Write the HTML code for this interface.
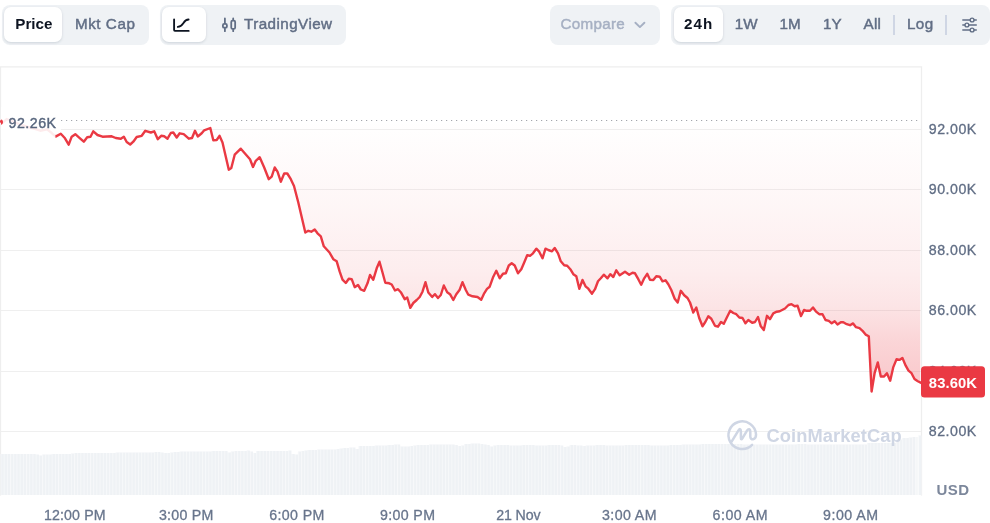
<!DOCTYPE html>
<html lang="en"><head><meta charset="utf-8"><title>Price chart</title>
<style>
html,body{margin:0;padding:0;background:#fff;}
body{width:990px;height:523px;position:relative;overflow:hidden;font-family:"Liberation Sans",sans-serif;}
.grp{position:absolute;top:5px;height:39.5px;background:#eff2f5;border-radius:8px;}
.pill{position:absolute;top:2.3px;height:34.7px;background:#fff;border-radius:7px;box-shadow:0 1px 2px rgba(128,138,157,.12),0 1px 3px rgba(128,138,157,.18);}
.t{position:absolute;top:0;height:39.5px;line-height:37px;font-size:15.2px;color:#616e85;white-space:nowrap;-webkit-text-stroke:.45px currentColor;}
.t.b{font-weight:bold;color:#0d1421;-webkit-text-stroke:0;}
.sep{position:absolute;top:10px;width:1.8px;height:20px;background:#cfd6e4;}
svg{position:absolute;left:0;top:0;}
.ax{font-family:"Liberation Sans",sans-serif;font-size:14.2px;fill:#616e85;letter-spacing:.5px;stroke:#616e85;stroke-width:.3px;}
.xx{font-family:"Liberation Sans",sans-serif;font-size:14.2px;fill:#68758c;letter-spacing:.12px;stroke:#68758c;stroke-width:.3px;}
</style></head><body>

<div class="grp" style="left:1.8px;width:147.2px;">
  <div class="pill" style="left:2.2px;width:58px;"></div>
  <div class="t b" style="left:13.5px;">Price</div>
  <div class="t" style="left:73.2px;letter-spacing:.55px;">Mkt Cap</div>
</div>

<div class="grp" style="left:159.5px;width:186px;">
  <div class="pill" style="left:2.2px;width:44.5px;"></div>
  <svg width="186" height="40" viewBox="0 0 186 40" fill="none">
    <path d="M14.1,14.4 V25.1 Q14.1,25.9 14.9,25.9 H28.7" stroke="#0d1421" stroke-width="1.85" stroke-linecap="round"/>
    <path d="M17.8,21.9 C24,21.6 22.6,14.8 28.6,14.5" stroke="#0d1421" stroke-width="1.85" stroke-linecap="round"/>
    <g stroke="#616e85" stroke-width="1.8" stroke-linecap="round">
      <path d="M64.9,13.4 V18 M64.9,23.5 V26.2 M73.2,13.4 V14.8 M73.2,24.6 V26.2"/>
      <rect x="62.9" y="18.9" width="4" height="3.8" rx="1.3"/>
      <rect x="71.25" y="15.7" width="3.9" height="8.1" rx="1.4"/>
    </g>
  </svg>
  <div class="t" style="left:84.5px;letter-spacing:.45px;">TradingView</div>
</div>

<div class="grp" style="left:550px;width:109.5px;">
  <div class="t" style="left:10.5px;color:#a6b0c3;letter-spacing:.3px;">Compare</div>
  <svg width="110" height="40" viewBox="0 0 110 40" fill="none"><path d="M85.4,17.7 L89.9,22.1 L94.4,17.7" stroke="#a6b0c3" stroke-width="1.9" stroke-linecap="round" stroke-linejoin="round"/></svg>
</div>

<div class="grp" style="left:670.5px;width:319.5px;">
  <div class="pill" style="left:3.5px;width:49px;"></div>
  <div class="t b" style="left:13.6px;letter-spacing:1px;">24h</div>
  <div class="t" style="left:64.2px;">1W</div>
  <div class="t" style="left:109px;">1M</div>
  <div class="t" style="left:152.5px;">1Y</div>
  <div class="t" style="left:193px;letter-spacing:.3px;">All</div>
  <div class="sep" style="left:222.3px;"></div>
  <div class="t" style="left:236.5px;letter-spacing:.4px;">Log</div>
  <div class="sep" style="left:274.6px;"></div>
  <svg width="330" height="40" viewBox="0 0 330 40" fill="none" style="left:0">
    <g stroke="#616e85" stroke-width="1.4" stroke-linecap="round" transform="translate(-.7 0)">
      <path d="M292.5,15 H306 M292.5,20 H306 M292.5,25 H306"/>
      <circle cx="301.8" cy="15" r="1.9" fill="#eff2f5"/>
      <circle cx="296.6" cy="20" r="1.9" fill="#eff2f5"/>
      <circle cx="301.8" cy="25" r="1.9" fill="#eff2f5"/>
    </g>
  </svg>
</div>

<svg width="990" height="523" viewBox="0 0 990 523">
  <defs>
    <linearGradient id="ag" x1="0" y1="120.5" x2="0" y2="392" gradientUnits="userSpaceOnUse">
      <stop offset="0.0000" stop-color="#ea3943" stop-opacity="0"/>
      <stop offset="0.3112" stop-color="#ea3943" stop-opacity="0.045"/>
      <stop offset="0.5506" stop-color="#ea3943" stop-opacity="0.09"/>
      <stop offset="0.6832" stop-color="#ea3943" stop-opacity="0.135"/>
      <stop offset="0.8085" stop-color="#ea3943" stop-opacity="0.21"/>
      <stop offset="0.9190" stop-color="#ea3943" stop-opacity="0.255"/>
      <stop offset="1.0000" stop-color="#ea3943" stop-opacity="0.28"/>
    </linearGradient>
    <pattern id="st" x="0.5" y="0" width="3.198" height="10" patternUnits="userSpaceOnUse"><rect x="0" y="0" width=".9" height="10" fill="#fff" fill-opacity=".5"/></pattern>
    <clipPath id="cp"><rect x="0" y="67" width="921.5" height="428"/></clipPath>
  </defs>
  <!-- frame -->
  <path d="M0.5,495.5 V66.8 H921.5 V495.5" fill="none" stroke="#eeeeee" stroke-width="1.3"/>
  <line x1="1" x2="921" y1="129.5" y2="129.5" stroke="#efefef" stroke-width="1"/>
<line x1="1" x2="921" y1="189.5" y2="189.5" stroke="#efefef" stroke-width="1"/>
<line x1="1" x2="921" y1="250.5" y2="250.5" stroke="#efefef" stroke-width="1"/>
<line x1="1" x2="921" y1="310.5" y2="310.5" stroke="#efefef" stroke-width="1"/>
<line x1="1" x2="921" y1="371.5" y2="371.5" stroke="#efefef" stroke-width="1"/>
<line x1="1" x2="921" y1="431.5" y2="431.5" stroke="#efefef" stroke-width="1"/>
  <!-- volume -->
  <path d="M0.5,495.0 L0.5,454.0 L3.7,454.0 L3.7,454.0 L6.9,454.0 L6.9,454.0 L10.1,454.0 L10.1,454.0 L13.3,454.0 L13.3,454.0 L16.5,454.0 L16.5,454.0 L19.7,454.0 L19.7,454.0 L22.9,454.0 L22.9,454.0 L26.1,454.0 L26.1,454.0 L29.3,454.0 L29.3,454.0 L32.5,454.0 L32.5,454.0 L35.7,454.0 L35.7,454.5 L38.9,454.5 L38.9,455.5 L42.1,455.5 L42.1,454.5 L45.3,454.5 L45.3,454.5 L48.5,454.5 L48.5,454.5 L51.7,454.5 L51.7,454.0 L54.9,454.0 L54.9,454.0 L58.1,454.0 L58.1,454.0 L61.3,454.0 L61.3,454.0 L64.5,454.0 L64.5,454.0 L67.7,454.0 L67.7,454.0 L70.9,454.0 L70.9,453.5 L74.1,453.5 L74.1,453.0 L77.2,453.0 L77.2,453.0 L80.4,453.0 L80.4,453.0 L83.6,453.0 L83.6,453.0 L86.8,453.0 L86.8,453.0 L90.0,453.0 L90.0,453.0 L93.2,453.0 L93.2,453.0 L96.4,453.0 L96.4,453.0 L99.6,453.0 L99.6,453.0 L102.8,453.0 L102.8,453.0 L106.0,453.0 L106.0,453.0 L109.2,453.0 L109.2,453.0 L112.4,453.0 L112.4,453.0 L115.6,453.0 L115.6,452.5 L118.8,452.5 L118.8,452.5 L122.0,452.5 L122.0,452.5 L125.2,452.5 L125.2,452.5 L128.4,452.5 L128.4,452.5 L131.6,452.5 L131.6,452.5 L134.8,452.5 L134.8,452.5 L138.0,452.5 L138.0,452.5 L141.2,452.5 L141.2,452.5 L144.4,452.5 L144.4,452.5 L147.6,452.5 L147.6,452.5 L150.8,452.5 L150.8,452.5 L154.0,452.5 L154.0,452.0 L157.2,452.0 L157.2,452.0 L160.4,452.0 L160.4,452.5 L163.6,452.5 L163.6,453.0 L166.8,453.0 L166.8,453.0 L170.0,453.0 L170.0,452.5 L173.2,452.5 L173.2,452.0 L176.4,452.0 L176.4,452.0 L179.6,452.0 L179.6,451.5 L182.8,451.5 L182.8,451.5 L186.0,451.5 L186.0,451.5 L189.2,451.5 L189.2,451.5 L192.4,451.5 L192.4,451.5 L195.6,451.5 L195.6,451.5 L198.8,451.5 L198.8,451.5 L202.0,451.5 L202.0,451.5 L205.2,451.5 L205.2,451.5 L208.4,451.5 L208.4,451.5 L211.6,451.5 L211.6,451.0 L214.8,451.0 L214.8,451.0 L218.0,451.0 L218.0,451.0 L221.2,451.0 L221.2,451.0 L224.4,451.0 L224.4,451.0 L227.6,451.0 L227.6,452.5 L230.7,452.5 L230.8,451.5 L233.9,451.5 L233.9,451.0 L237.1,451.0 L237.1,451.0 L240.3,451.0 L240.3,451.0 L243.5,451.0 L243.5,451.0 L246.7,451.0 L246.7,450.5 L249.9,450.5 L249.9,451.5 L253.1,451.5 L253.1,453.0 L256.3,453.0 L256.3,451.0 L259.5,451.0 L259.5,451.0 L262.7,451.0 L262.7,451.0 L265.9,451.0 L265.9,451.0 L269.1,451.0 L269.1,451.0 L272.3,451.0 L272.3,451.0 L275.5,451.0 L275.5,451.0 L278.7,451.0 L278.7,451.0 L281.9,451.0 L281.9,451.0 L285.1,451.0 L285.1,451.0 L288.3,451.0 L288.3,450.5 L291.5,450.5 L291.5,454.0 L294.7,454.0 L294.7,454.5 L297.9,454.5 L297.9,451.5 L301.1,451.5 L301.1,451.0 L304.3,451.0 L304.3,450.5 L307.5,450.5 L307.5,450.0 L310.7,450.0 L310.7,450.0 L313.9,450.0 L313.9,450.0 L317.1,450.0 L317.1,449.5 L320.3,449.5 L320.3,449.5 L323.5,449.5 L323.5,449.5 L326.7,449.5 L326.7,449.5 L329.9,449.5 L329.9,449.5 L333.1,449.5 L333.1,449.5 L336.3,449.5 L336.3,449.0 L339.5,449.0 L339.5,448.5 L342.7,448.5 L342.7,448.0 L345.9,448.0 L345.9,448.0 L349.1,448.0 L349.1,447.5 L352.3,447.5 L352.3,447.5 L355.5,447.5 L355.5,449.0 L358.7,449.0 L358.7,446.0 L361.9,446.0 L361.9,446.0 L365.1,446.0 L365.1,446.0 L368.3,446.0 L368.3,446.0 L371.5,446.0 L371.5,446.0 L374.7,446.0 L374.7,445.5 L377.9,445.5 L377.9,445.5 L381.1,445.5 L381.1,445.5 L384.2,445.5 L384.2,445.5 L387.4,445.5 L387.4,445.0 L390.6,445.0 L390.6,445.0 L393.8,445.0 L393.8,444.5 L397.0,444.5 L397.0,444.5 L400.2,444.5 L400.2,446.5 L403.4,446.5 L403.4,446.5 L406.6,446.5 L406.6,446.5 L409.8,446.5 L409.8,446.0 L413.0,446.0 L413.0,445.5 L416.2,445.5 L416.2,445.0 L419.4,445.0 L419.4,445.0 L422.6,445.0 L422.6,445.0 L425.8,445.0 L425.8,445.0 L429.0,445.0 L429.0,444.5 L432.2,444.5 L432.2,444.5 L435.4,444.5 L435.4,444.5 L438.6,444.5 L438.6,444.5 L441.8,444.5 L441.8,444.5 L445.0,444.5 L445.0,444.5 L448.2,444.5 L448.2,444.5 L451.4,444.5 L451.4,444.5 L454.6,444.5 L454.6,445.0 L457.8,445.0 L457.8,446.0 L461.0,446.0 L461.0,445.5 L464.2,445.5 L464.2,444.0 L467.4,444.0 L467.4,444.0 L470.6,444.0 L470.6,443.5 L473.8,443.5 L473.8,443.5 L477.0,443.5 L477.0,443.5 L480.2,443.5 L480.2,444.0 L483.4,444.0 L483.4,444.5 L486.6,444.5 L486.6,445.0 L489.8,445.0 L489.8,446.5 L493.0,446.5 L493.0,445.5 L496.2,445.5 L496.2,445.0 L499.4,445.0 L499.4,445.0 L502.6,445.0 L502.6,445.0 L505.8,445.0 L505.8,445.0 L509.0,445.0 L509.0,445.5 L512.2,445.5 L512.2,445.5 L515.4,445.5 L515.4,445.5 L518.6,445.5 L518.6,445.5 L521.8,445.5 L521.8,445.0 L525.0,445.0 L525.0,445.0 L528.2,445.0 L528.2,445.0 L531.4,445.0 L531.4,445.0 L534.6,445.0 L534.6,445.5 L537.7,445.5 L537.8,445.5 L540.9,445.5 L540.9,445.5 L544.1,445.5 L544.1,445.5 L547.3,445.5 L547.3,445.0 L550.5,445.0 L550.5,445.0 L553.7,445.0 L553.7,445.0 L556.9,445.0 L556.9,445.0 L560.1,445.0 L560.1,445.5 L563.3,445.5 L563.3,447.0 L566.5,447.0 L566.5,446.5 L569.7,446.5 L569.7,445.0 L572.9,445.0 L572.9,445.0 L576.1,445.0 L576.1,445.5 L579.3,445.5 L579.3,445.5 L582.5,445.5 L582.5,446.0 L585.7,446.0 L585.7,445.5 L588.9,445.5 L588.9,445.5 L592.1,445.5 L592.1,445.5 L595.3,445.5 L595.3,445.0 L598.5,445.0 L598.5,445.0 L601.7,445.0 L601.7,445.0 L604.9,445.0 L604.9,445.5 L608.1,445.5 L608.1,445.5 L611.3,445.5 L611.3,445.5 L614.5,445.5 L614.5,445.5 L617.7,445.5 L617.7,445.5 L620.9,445.5 L620.9,445.5 L624.1,445.5 L624.1,445.0 L627.3,445.0 L627.3,445.0 L630.5,445.0 L630.5,445.0 L633.7,445.0 L633.7,445.0 L636.9,445.0 L636.9,445.0 L640.1,445.0 L640.1,445.0 L643.3,445.0 L643.3,445.0 L646.5,445.0 L646.5,445.0 L649.7,445.0 L649.7,445.5 L652.9,445.5 L652.9,445.5 L656.1,445.5 L656.1,445.5 L659.3,445.5 L659.3,445.5 L662.5,445.5 L662.5,445.5 L665.7,445.5 L665.7,445.5 L668.9,445.5 L668.9,445.0 L672.1,445.0 L672.1,445.0 L675.3,445.0 L675.3,445.0 L678.5,445.0 L678.5,445.0 L681.7,445.0 L681.7,444.5 L684.9,444.5 L684.9,444.5 L688.1,444.5 L688.1,444.5 L691.2,444.5 L691.2,444.5 L694.4,444.5 L694.4,444.5 L697.6,444.5 L697.6,444.5 L700.8,444.5 L700.8,444.0 L704.0,444.0 L704.0,444.0 L707.2,444.0 L707.2,444.0 L710.4,444.0 L710.4,444.0 L713.6,444.0 L713.6,444.0 L716.8,444.0 L716.8,444.0 L720.0,444.0 L720.0,444.0 L723.2,444.0 L723.2,444.0 L726.4,444.0 L726.4,444.0 L729.6,444.0 L729.6,444.0 L732.8,444.0 L732.8,444.0 L736.0,444.0 L736.0,444.0 L739.2,444.0 L739.2,444.0 L742.4,444.0 L742.4,444.5 L745.6,444.5 L745.6,444.5 L748.8,444.5 L748.8,444.5 L752.0,444.5 L752.0,444.5 L755.2,444.5 L755.2,444.5 L758.4,444.5 L758.4,444.5 L761.6,444.5 L761.6,444.5 L764.8,444.5 L764.8,444.5 L768.0,444.5 L768.0,444.5 L771.2,444.5 L771.2,444.5 L774.4,444.5 L774.4,444.5 L777.6,444.5 L777.6,444.5 L780.8,444.5 L780.8,444.5 L784.0,444.5 L784.0,444.5 L787.2,444.5 L787.2,444.5 L790.4,444.5 L790.4,444.5 L793.6,444.5 L793.6,444.5 L796.8,444.5 L796.8,444.0 L800.0,444.0 L800.0,444.0 L803.2,444.0 L803.2,444.0 L806.4,444.0 L806.4,444.5 L809.6,444.5 L809.6,444.5 L812.8,444.5 L812.8,444.5 L816.0,444.5 L816.0,444.5 L819.2,444.5 L819.2,444.5 L822.4,444.5 L822.4,444.5 L825.6,444.5 L825.6,444.5 L828.8,444.5 L828.8,444.5 L832.0,444.5 L832.0,444.5 L835.2,444.5 L835.2,444.5 L838.4,444.5 L838.4,444.5 L841.6,444.5 L841.6,444.5 L844.7,444.5 L844.8,444.5 L847.9,444.5 L847.9,444.5 L851.1,444.5 L851.1,444.5 L854.3,444.5 L854.3,444.5 L857.5,444.5 L857.5,444.5 L860.7,444.5 L860.7,444.5 L863.9,444.5 L863.9,444.5 L867.1,444.5 L867.1,443.0 L870.3,443.0 L870.3,443.0 L873.5,443.0 L873.5,443.0 L876.7,443.0 L876.7,443.0 L879.9,443.0 L879.9,443.0 L883.1,443.0 L883.1,443.0 L886.3,443.0 L886.3,443.0 L889.5,443.0 L889.5,443.0 L892.7,443.0 L892.7,443.0 L895.9,443.0 L895.9,442.0 L899.1,442.0 L899.1,439.5 L902.3,439.5 L902.3,438.0 L905.5,438.0 L905.5,438.0 L908.7,438.0 L908.7,437.5 L911.9,437.5 L911.9,437.0 L915.1,437.0 L915.1,437.0 L918.3,437.0 L918.3,435.5 L921.5,435.5 L921.5,495.0 Z" fill="#eff2f5"/>
  <path d="M0.5,495.0 L0.5,454.0 L3.7,454.0 L3.7,454.0 L6.9,454.0 L6.9,454.0 L10.1,454.0 L10.1,454.0 L13.3,454.0 L13.3,454.0 L16.5,454.0 L16.5,454.0 L19.7,454.0 L19.7,454.0 L22.9,454.0 L22.9,454.0 L26.1,454.0 L26.1,454.0 L29.3,454.0 L29.3,454.0 L32.5,454.0 L32.5,454.0 L35.7,454.0 L35.7,454.5 L38.9,454.5 L38.9,455.5 L42.1,455.5 L42.1,454.5 L45.3,454.5 L45.3,454.5 L48.5,454.5 L48.5,454.5 L51.7,454.5 L51.7,454.0 L54.9,454.0 L54.9,454.0 L58.1,454.0 L58.1,454.0 L61.3,454.0 L61.3,454.0 L64.5,454.0 L64.5,454.0 L67.7,454.0 L67.7,454.0 L70.9,454.0 L70.9,453.5 L74.1,453.5 L74.1,453.0 L77.2,453.0 L77.2,453.0 L80.4,453.0 L80.4,453.0 L83.6,453.0 L83.6,453.0 L86.8,453.0 L86.8,453.0 L90.0,453.0 L90.0,453.0 L93.2,453.0 L93.2,453.0 L96.4,453.0 L96.4,453.0 L99.6,453.0 L99.6,453.0 L102.8,453.0 L102.8,453.0 L106.0,453.0 L106.0,453.0 L109.2,453.0 L109.2,453.0 L112.4,453.0 L112.4,453.0 L115.6,453.0 L115.6,452.5 L118.8,452.5 L118.8,452.5 L122.0,452.5 L122.0,452.5 L125.2,452.5 L125.2,452.5 L128.4,452.5 L128.4,452.5 L131.6,452.5 L131.6,452.5 L134.8,452.5 L134.8,452.5 L138.0,452.5 L138.0,452.5 L141.2,452.5 L141.2,452.5 L144.4,452.5 L144.4,452.5 L147.6,452.5 L147.6,452.5 L150.8,452.5 L150.8,452.5 L154.0,452.5 L154.0,452.0 L157.2,452.0 L157.2,452.0 L160.4,452.0 L160.4,452.5 L163.6,452.5 L163.6,453.0 L166.8,453.0 L166.8,453.0 L170.0,453.0 L170.0,452.5 L173.2,452.5 L173.2,452.0 L176.4,452.0 L176.4,452.0 L179.6,452.0 L179.6,451.5 L182.8,451.5 L182.8,451.5 L186.0,451.5 L186.0,451.5 L189.2,451.5 L189.2,451.5 L192.4,451.5 L192.4,451.5 L195.6,451.5 L195.6,451.5 L198.8,451.5 L198.8,451.5 L202.0,451.5 L202.0,451.5 L205.2,451.5 L205.2,451.5 L208.4,451.5 L208.4,451.5 L211.6,451.5 L211.6,451.0 L214.8,451.0 L214.8,451.0 L218.0,451.0 L218.0,451.0 L221.2,451.0 L221.2,451.0 L224.4,451.0 L224.4,451.0 L227.6,451.0 L227.6,452.5 L230.7,452.5 L230.8,451.5 L233.9,451.5 L233.9,451.0 L237.1,451.0 L237.1,451.0 L240.3,451.0 L240.3,451.0 L243.5,451.0 L243.5,451.0 L246.7,451.0 L246.7,450.5 L249.9,450.5 L249.9,451.5 L253.1,451.5 L253.1,453.0 L256.3,453.0 L256.3,451.0 L259.5,451.0 L259.5,451.0 L262.7,451.0 L262.7,451.0 L265.9,451.0 L265.9,451.0 L269.1,451.0 L269.1,451.0 L272.3,451.0 L272.3,451.0 L275.5,451.0 L275.5,451.0 L278.7,451.0 L278.7,451.0 L281.9,451.0 L281.9,451.0 L285.1,451.0 L285.1,451.0 L288.3,451.0 L288.3,450.5 L291.5,450.5 L291.5,454.0 L294.7,454.0 L294.7,454.5 L297.9,454.5 L297.9,451.5 L301.1,451.5 L301.1,451.0 L304.3,451.0 L304.3,450.5 L307.5,450.5 L307.5,450.0 L310.7,450.0 L310.7,450.0 L313.9,450.0 L313.9,450.0 L317.1,450.0 L317.1,449.5 L320.3,449.5 L320.3,449.5 L323.5,449.5 L323.5,449.5 L326.7,449.5 L326.7,449.5 L329.9,449.5 L329.9,449.5 L333.1,449.5 L333.1,449.5 L336.3,449.5 L336.3,449.0 L339.5,449.0 L339.5,448.5 L342.7,448.5 L342.7,448.0 L345.9,448.0 L345.9,448.0 L349.1,448.0 L349.1,447.5 L352.3,447.5 L352.3,447.5 L355.5,447.5 L355.5,449.0 L358.7,449.0 L358.7,446.0 L361.9,446.0 L361.9,446.0 L365.1,446.0 L365.1,446.0 L368.3,446.0 L368.3,446.0 L371.5,446.0 L371.5,446.0 L374.7,446.0 L374.7,445.5 L377.9,445.5 L377.9,445.5 L381.1,445.5 L381.1,445.5 L384.2,445.5 L384.2,445.5 L387.4,445.5 L387.4,445.0 L390.6,445.0 L390.6,445.0 L393.8,445.0 L393.8,444.5 L397.0,444.5 L397.0,444.5 L400.2,444.5 L400.2,446.5 L403.4,446.5 L403.4,446.5 L406.6,446.5 L406.6,446.5 L409.8,446.5 L409.8,446.0 L413.0,446.0 L413.0,445.5 L416.2,445.5 L416.2,445.0 L419.4,445.0 L419.4,445.0 L422.6,445.0 L422.6,445.0 L425.8,445.0 L425.8,445.0 L429.0,445.0 L429.0,444.5 L432.2,444.5 L432.2,444.5 L435.4,444.5 L435.4,444.5 L438.6,444.5 L438.6,444.5 L441.8,444.5 L441.8,444.5 L445.0,444.5 L445.0,444.5 L448.2,444.5 L448.2,444.5 L451.4,444.5 L451.4,444.5 L454.6,444.5 L454.6,445.0 L457.8,445.0 L457.8,446.0 L461.0,446.0 L461.0,445.5 L464.2,445.5 L464.2,444.0 L467.4,444.0 L467.4,444.0 L470.6,444.0 L470.6,443.5 L473.8,443.5 L473.8,443.5 L477.0,443.5 L477.0,443.5 L480.2,443.5 L480.2,444.0 L483.4,444.0 L483.4,444.5 L486.6,444.5 L486.6,445.0 L489.8,445.0 L489.8,446.5 L493.0,446.5 L493.0,445.5 L496.2,445.5 L496.2,445.0 L499.4,445.0 L499.4,445.0 L502.6,445.0 L502.6,445.0 L505.8,445.0 L505.8,445.0 L509.0,445.0 L509.0,445.5 L512.2,445.5 L512.2,445.5 L515.4,445.5 L515.4,445.5 L518.6,445.5 L518.6,445.5 L521.8,445.5 L521.8,445.0 L525.0,445.0 L525.0,445.0 L528.2,445.0 L528.2,445.0 L531.4,445.0 L531.4,445.0 L534.6,445.0 L534.6,445.5 L537.7,445.5 L537.8,445.5 L540.9,445.5 L540.9,445.5 L544.1,445.5 L544.1,445.5 L547.3,445.5 L547.3,445.0 L550.5,445.0 L550.5,445.0 L553.7,445.0 L553.7,445.0 L556.9,445.0 L556.9,445.0 L560.1,445.0 L560.1,445.5 L563.3,445.5 L563.3,447.0 L566.5,447.0 L566.5,446.5 L569.7,446.5 L569.7,445.0 L572.9,445.0 L572.9,445.0 L576.1,445.0 L576.1,445.5 L579.3,445.5 L579.3,445.5 L582.5,445.5 L582.5,446.0 L585.7,446.0 L585.7,445.5 L588.9,445.5 L588.9,445.5 L592.1,445.5 L592.1,445.5 L595.3,445.5 L595.3,445.0 L598.5,445.0 L598.5,445.0 L601.7,445.0 L601.7,445.0 L604.9,445.0 L604.9,445.5 L608.1,445.5 L608.1,445.5 L611.3,445.5 L611.3,445.5 L614.5,445.5 L614.5,445.5 L617.7,445.5 L617.7,445.5 L620.9,445.5 L620.9,445.5 L624.1,445.5 L624.1,445.0 L627.3,445.0 L627.3,445.0 L630.5,445.0 L630.5,445.0 L633.7,445.0 L633.7,445.0 L636.9,445.0 L636.9,445.0 L640.1,445.0 L640.1,445.0 L643.3,445.0 L643.3,445.0 L646.5,445.0 L646.5,445.0 L649.7,445.0 L649.7,445.5 L652.9,445.5 L652.9,445.5 L656.1,445.5 L656.1,445.5 L659.3,445.5 L659.3,445.5 L662.5,445.5 L662.5,445.5 L665.7,445.5 L665.7,445.5 L668.9,445.5 L668.9,445.0 L672.1,445.0 L672.1,445.0 L675.3,445.0 L675.3,445.0 L678.5,445.0 L678.5,445.0 L681.7,445.0 L681.7,444.5 L684.9,444.5 L684.9,444.5 L688.1,444.5 L688.1,444.5 L691.2,444.5 L691.2,444.5 L694.4,444.5 L694.4,444.5 L697.6,444.5 L697.6,444.5 L700.8,444.5 L700.8,444.0 L704.0,444.0 L704.0,444.0 L707.2,444.0 L707.2,444.0 L710.4,444.0 L710.4,444.0 L713.6,444.0 L713.6,444.0 L716.8,444.0 L716.8,444.0 L720.0,444.0 L720.0,444.0 L723.2,444.0 L723.2,444.0 L726.4,444.0 L726.4,444.0 L729.6,444.0 L729.6,444.0 L732.8,444.0 L732.8,444.0 L736.0,444.0 L736.0,444.0 L739.2,444.0 L739.2,444.0 L742.4,444.0 L742.4,444.5 L745.6,444.5 L745.6,444.5 L748.8,444.5 L748.8,444.5 L752.0,444.5 L752.0,444.5 L755.2,444.5 L755.2,444.5 L758.4,444.5 L758.4,444.5 L761.6,444.5 L761.6,444.5 L764.8,444.5 L764.8,444.5 L768.0,444.5 L768.0,444.5 L771.2,444.5 L771.2,444.5 L774.4,444.5 L774.4,444.5 L777.6,444.5 L777.6,444.5 L780.8,444.5 L780.8,444.5 L784.0,444.5 L784.0,444.5 L787.2,444.5 L787.2,444.5 L790.4,444.5 L790.4,444.5 L793.6,444.5 L793.6,444.5 L796.8,444.5 L796.8,444.0 L800.0,444.0 L800.0,444.0 L803.2,444.0 L803.2,444.0 L806.4,444.0 L806.4,444.5 L809.6,444.5 L809.6,444.5 L812.8,444.5 L812.8,444.5 L816.0,444.5 L816.0,444.5 L819.2,444.5 L819.2,444.5 L822.4,444.5 L822.4,444.5 L825.6,444.5 L825.6,444.5 L828.8,444.5 L828.8,444.5 L832.0,444.5 L832.0,444.5 L835.2,444.5 L835.2,444.5 L838.4,444.5 L838.4,444.5 L841.6,444.5 L841.6,444.5 L844.7,444.5 L844.8,444.5 L847.9,444.5 L847.9,444.5 L851.1,444.5 L851.1,444.5 L854.3,444.5 L854.3,444.5 L857.5,444.5 L857.5,444.5 L860.7,444.5 L860.7,444.5 L863.9,444.5 L863.9,444.5 L867.1,444.5 L867.1,443.0 L870.3,443.0 L870.3,443.0 L873.5,443.0 L873.5,443.0 L876.7,443.0 L876.7,443.0 L879.9,443.0 L879.9,443.0 L883.1,443.0 L883.1,443.0 L886.3,443.0 L886.3,443.0 L889.5,443.0 L889.5,443.0 L892.7,443.0 L892.7,443.0 L895.9,443.0 L895.9,442.0 L899.1,442.0 L899.1,439.5 L902.3,439.5 L902.3,438.0 L905.5,438.0 L905.5,438.0 L908.7,438.0 L908.7,437.5 L911.9,437.5 L911.9,437.0 L915.1,437.0 L915.1,437.0 L918.3,437.0 L918.3,435.5 L921.5,435.5 L921.5,495.0 Z" fill="url(#st)"/>
  <rect x="916.3" y="436" width="2.6" height="59" fill="#fff" fill-opacity=".45"/>
  <!-- area + line -->
  <g clip-path="url(#cp)">
    <path d="M0.5,121.5 L3.0,122.5 L6.7,119.0 L12.0,121.0 L20.0,124.5 L28.0,127.0 L34.0,128.5 L40.3,130.7 L47.0,129.4 L51.5,132.8 L55.6,136.6 L60.8,133.7 L65.0,138.3 L68.7,144.7 L71.7,136.7 L75.3,134.2 L80.0,138.3 L83.8,141.7 L87.2,137.2 L90.5,136.7 L93.3,131.3 L97.5,135.0 L102.5,136.7 L111.7,136.3 L115.8,138.0 L120.8,138.7 L123.8,136.7 L126.7,142.0 L130.2,144.5 L133.3,141.7 L136.7,137.0 L141.7,135.8 L145.3,130.8 L150.8,132.5 L154.2,131.3 L157.8,139.2 L161.2,135.8 L164.2,136.3 L167.5,138.7 L170.8,133.0 L173.3,132.5 L176.7,137.5 L179.7,133.3 L183.7,134.2 L188.8,138.7 L192.0,138.0 L195.0,130.8 L197.8,136.5 L201.7,133.3 L204.2,130.3 L210.3,128.0 L213.3,140.3 L216.7,140.0 L219.5,135.8 L222.5,142.5 L228.8,169.7 L231.3,168.0 L234.7,154.7 L240.8,148.7 L250.0,159.2 L253.0,167.0 L255.8,160.8 L259.7,157.2 L264.2,167.5 L268.8,179.2 L271.7,176.7 L274.7,167.5 L277.5,171.7 L280.8,181.7 L284.2,173.5 L287.3,173.5 L290.8,179.2 L294.0,186.0 L298.3,202.5 L305.3,232.5 L308.3,230.8 L311.3,231.7 L314.7,229.5 L317.5,233.3 L320.8,236.3 L323.8,246.3 L329.5,252.5 L333.3,259.2 L336.7,261.3 L339.7,271.7 L342.5,279.7 L345.8,283.0 L348.8,278.8 L351.7,279.2 L354.7,287.2 L358.0,285.0 L360.8,289.5 L364.2,290.8 L367.5,283.3 L370.0,275.0 L373.3,279.7 L376.7,268.3 L379.5,261.7 L382.5,272.5 L385.3,282.8 L389.2,283.3 L391.7,284.5 L395.0,290.5 L398.0,289.2 L400.8,292.2 L404.7,299.2 L407.2,297.5 L410.3,307.8 L413.3,303.0 L416.7,300.0 L419.7,297.0 L422.5,291.7 L425.5,282.2 L428.3,292.5 L432.2,297.0 L435.0,294.2 L438.0,298.0 L440.8,295.0 L443.8,285.5 L447.2,292.2 L450.0,294.2 L453.3,300.0 L456.3,294.2 L459.7,289.7 L462.5,282.2 L465.8,290.0 L468.3,294.7 L472.5,296.3 L477.5,297.0 L481.2,299.7 L484.2,293.3 L487.0,288.9 L489.7,286.7 L493.3,276.7 L496.3,270.8 L499.7,278.3 L503.0,273.7 L505.8,273.3 L508.8,265.5 L511.7,263.3 L514.7,265.5 L518.0,273.3 L521.3,269.2 L524.2,262.5 L527.2,255.3 L530.0,255.8 L533.0,253.3 L536.3,248.7 L539.2,251.7 L542.5,258.3 L545.5,248.7 L548.3,250.0 L552.0,251.3 L554.7,248.0 L558.0,253.3 L560.8,261.3 L564.2,265.3 L567.2,265.8 L570.3,269.2 L573.3,274.2 L576.3,276.3 L579.3,288.8 L582.5,280.0 L585.5,286.3 L588.3,288.7 L592.0,293.7 L595.0,289.2 L598.0,281.3 L600.8,278.3 L603.8,274.7 L607.5,278.3 L610.3,274.2 L613.3,277.0 L616.3,270.3 L619.7,275.3 L625.0,271.7 L629.2,274.7 L632.5,272.8 L635.0,273.3 L638.3,279.2 L641.2,284.7 L644.2,278.3 L647.2,273.8 L650.0,279.7 L653.3,280.0 L656.3,276.2 L659.7,276.7 L662.5,281.3 L665.5,280.3 L668.3,284.2 L671.3,290.0 L674.7,298.7 L677.7,302.5 L680.8,290.8 L684.2,295.3 L687.5,298.0 L690.0,302.5 L693.3,312.5 L696.3,307.5 L699.2,318.0 L702.5,326.3 L705.3,322.0 L708.3,316.3 L711.3,318.7 L715.0,325.8 L718.0,326.7 L721.0,322.0 L723.8,323.8 L727.2,316.7 L730.2,310.8 L733.3,313.0 L736.3,314.2 L739.3,317.5 L742.5,318.0 L745.5,323.3 L748.3,320.0 L752.2,322.8 L755.0,322.0 L758.0,317.0 L760.8,326.3 L763.8,330.0 L767.0,315.8 L770.0,319.2 L773.3,313.3 L776.7,311.7 L779.7,311.3 L785.0,308.5 L788.5,305.0 L791.5,304.2 L794.7,306.3 L797.6,305.8 L801.0,316.0 L804.0,310.0 L806.7,310.8 L810.0,310.8 L813.0,307.5 L815.8,311.3 L819.2,314.2 L822.5,314.2 L825.5,320.0 L828.8,320.8 L831.7,323.3 L834.7,321.3 L837.5,324.5 L840.8,322.2 L843.3,322.2 L846.7,324.2 L850.0,325.2 L853.1,323.4 L856.0,327.2 L859.5,328.2 L862.5,330.8 L865.6,334.6 L868.8,336.3 L871.6,391.5 L874.6,373.2 L877.8,362.4 L880.8,376.5 L884.1,376.5 L886.9,373.2 L890.2,380.7 L893.2,367.4 L896.6,359.1 L899.4,359.9 L902.4,357.9 L905.7,365.7 L908.5,370.7 L911.5,373.2 L914.5,379.0 L917.8,381.2 L920.3,382.5 L920.3,120.5 L0.5,120.5 Z" fill="url(#ag)"/>
    <path d="M0.5,121.5 L3.0,122.5 L6.7,119.0 L12.0,121.0 L20.0,124.5 L28.0,127.0 L34.0,128.5 L40.3,130.7 L47.0,129.4 L51.5,132.8 L55.6,136.6 L60.8,133.7 L65.0,138.3 L68.7,144.7 L71.7,136.7 L75.3,134.2 L80.0,138.3 L83.8,141.7 L87.2,137.2 L90.5,136.7 L93.3,131.3 L97.5,135.0 L102.5,136.7 L111.7,136.3 L115.8,138.0 L120.8,138.7 L123.8,136.7 L126.7,142.0 L130.2,144.5 L133.3,141.7 L136.7,137.0 L141.7,135.8 L145.3,130.8 L150.8,132.5 L154.2,131.3 L157.8,139.2 L161.2,135.8 L164.2,136.3 L167.5,138.7 L170.8,133.0 L173.3,132.5 L176.7,137.5 L179.7,133.3 L183.7,134.2 L188.8,138.7 L192.0,138.0 L195.0,130.8 L197.8,136.5 L201.7,133.3 L204.2,130.3 L210.3,128.0 L213.3,140.3 L216.7,140.0 L219.5,135.8 L222.5,142.5 L228.8,169.7 L231.3,168.0 L234.7,154.7 L240.8,148.7 L250.0,159.2 L253.0,167.0 L255.8,160.8 L259.7,157.2 L264.2,167.5 L268.8,179.2 L271.7,176.7 L274.7,167.5 L277.5,171.7 L280.8,181.7 L284.2,173.5 L287.3,173.5 L290.8,179.2 L294.0,186.0 L298.3,202.5 L305.3,232.5 L308.3,230.8 L311.3,231.7 L314.7,229.5 L317.5,233.3 L320.8,236.3 L323.8,246.3 L329.5,252.5 L333.3,259.2 L336.7,261.3 L339.7,271.7 L342.5,279.7 L345.8,283.0 L348.8,278.8 L351.7,279.2 L354.7,287.2 L358.0,285.0 L360.8,289.5 L364.2,290.8 L367.5,283.3 L370.0,275.0 L373.3,279.7 L376.7,268.3 L379.5,261.7 L382.5,272.5 L385.3,282.8 L389.2,283.3 L391.7,284.5 L395.0,290.5 L398.0,289.2 L400.8,292.2 L404.7,299.2 L407.2,297.5 L410.3,307.8 L413.3,303.0 L416.7,300.0 L419.7,297.0 L422.5,291.7 L425.5,282.2 L428.3,292.5 L432.2,297.0 L435.0,294.2 L438.0,298.0 L440.8,295.0 L443.8,285.5 L447.2,292.2 L450.0,294.2 L453.3,300.0 L456.3,294.2 L459.7,289.7 L462.5,282.2 L465.8,290.0 L468.3,294.7 L472.5,296.3 L477.5,297.0 L481.2,299.7 L484.2,293.3 L487.0,288.9 L489.7,286.7 L493.3,276.7 L496.3,270.8 L499.7,278.3 L503.0,273.7 L505.8,273.3 L508.8,265.5 L511.7,263.3 L514.7,265.5 L518.0,273.3 L521.3,269.2 L524.2,262.5 L527.2,255.3 L530.0,255.8 L533.0,253.3 L536.3,248.7 L539.2,251.7 L542.5,258.3 L545.5,248.7 L548.3,250.0 L552.0,251.3 L554.7,248.0 L558.0,253.3 L560.8,261.3 L564.2,265.3 L567.2,265.8 L570.3,269.2 L573.3,274.2 L576.3,276.3 L579.3,288.8 L582.5,280.0 L585.5,286.3 L588.3,288.7 L592.0,293.7 L595.0,289.2 L598.0,281.3 L600.8,278.3 L603.8,274.7 L607.5,278.3 L610.3,274.2 L613.3,277.0 L616.3,270.3 L619.7,275.3 L625.0,271.7 L629.2,274.7 L632.5,272.8 L635.0,273.3 L638.3,279.2 L641.2,284.7 L644.2,278.3 L647.2,273.8 L650.0,279.7 L653.3,280.0 L656.3,276.2 L659.7,276.7 L662.5,281.3 L665.5,280.3 L668.3,284.2 L671.3,290.0 L674.7,298.7 L677.7,302.5 L680.8,290.8 L684.2,295.3 L687.5,298.0 L690.0,302.5 L693.3,312.5 L696.3,307.5 L699.2,318.0 L702.5,326.3 L705.3,322.0 L708.3,316.3 L711.3,318.7 L715.0,325.8 L718.0,326.7 L721.0,322.0 L723.8,323.8 L727.2,316.7 L730.2,310.8 L733.3,313.0 L736.3,314.2 L739.3,317.5 L742.5,318.0 L745.5,323.3 L748.3,320.0 L752.2,322.8 L755.0,322.0 L758.0,317.0 L760.8,326.3 L763.8,330.0 L767.0,315.8 L770.0,319.2 L773.3,313.3 L776.7,311.7 L779.7,311.3 L785.0,308.5 L788.5,305.0 L791.5,304.2 L794.7,306.3 L797.6,305.8 L801.0,316.0 L804.0,310.0 L806.7,310.8 L810.0,310.8 L813.0,307.5 L815.8,311.3 L819.2,314.2 L822.5,314.2 L825.5,320.0 L828.8,320.8 L831.7,323.3 L834.7,321.3 L837.5,324.5 L840.8,322.2 L843.3,322.2 L846.7,324.2 L850.0,325.2 L853.1,323.4 L856.0,327.2 L859.5,328.2 L862.5,330.8 L865.6,334.6 L868.8,336.3 L871.6,391.5 L874.6,373.2 L877.8,362.4 L880.8,376.5 L884.1,376.5 L886.9,373.2 L890.2,380.7 L893.2,367.4 L896.6,359.1 L899.4,359.9 L902.4,357.9 L905.7,365.7 L908.5,370.7 L911.5,373.2 L914.5,379.0 L917.8,381.2 L921.2,382.9" fill="none" stroke="#ea3943" stroke-width="2.4" stroke-linejoin="round" stroke-linecap="round"/>
  </g>
  <!-- baseline dotted -->
  <line x1="61" x2="918" y1="120.5" y2="120.5" stroke="#a3a7ad" stroke-width="1.2" stroke-dasharray="1.2 3.8"/>
  <!-- open label -->
  <path d="M1,107 H61 V131.6 H55.4 V139 H1 Z" fill="#fff" fill-opacity=".9"/>
  <text x="8.6" y="127.9" class="ax" style="fill:#58667e;letter-spacing:.5px;stroke:#58667e;stroke-width:.4px">92.26K</text>
  <path d="M1,119.4 C2.6,119.6 3.1,121 3,122.2 C2.9,123.6 2.2,124.6 1,124.8 Z" fill="#ea3943"/>
  <!-- watermark -->
  <g fill="none" stroke="#cfd6e4" stroke-width="2.5" stroke-linecap="round" stroke-linejoin="round">
    <path d="M752.1,444.9 A13.8,13.8 0 1 1 756.05,434.6 C756,440.4 750.3,440.6 750.3,436.4 V432 C750.3,428.6 748.4,428.4 747,430.7 L742.4,438.3 C741.5,439.8 740.9,439.6 740.9,438 V431.4 C740.9,428.4 739.6,428.6 738.5,430.4 L731.6,441.6"/>
  </g>
  <text x="766.5" y="441.8" style="font-family:'Liberation Sans',sans-serif;font-weight:bold;font-size:18.3px;fill:#cfd6e4;letter-spacing:.1px">CoinMarketCap</text>
  <!-- axis labels -->
  <text x="928.8" y="133.5" class="ax">92.00K</text>
<text x="928.8" y="193.5" class="ax">90.00K</text>
<text x="928.8" y="254.5" class="ax">88.00K</text>
<text x="928.8" y="314.5" class="ax">86.00K</text>
<text x="928.8" y="375.5" class="ax">84.00K</text>
<text x="928.8" y="435.5" class="ax">82.00K</text>
  <text x="74.86" y="520.1" class="xx" text-anchor="middle" style="letter-spacing:0.12px">12:00 PM</text>
<text x="186.22" y="520.1" class="xx" text-anchor="middle" style="letter-spacing:0.25px">3:00 PM</text>
<text x="296.98" y="520.1" class="xx" text-anchor="middle" style="letter-spacing:0.35px">6:00 PM</text>
<text x="407.68" y="520.1" class="xx" text-anchor="middle" style="letter-spacing:0.35px">9:00 PM</text>
<text x="518.32" y="520.1" class="xx" text-anchor="middle" style="letter-spacing:-0.15px">21 Nov</text>
<text x="629.51" y="520.1" class="xx" text-anchor="middle" style="letter-spacing:0.42px">3:00 AM</text>
<text x="740.35" y="520.1" class="xx" text-anchor="middle" style="letter-spacing:0.5px">6:00 AM</text>
<text x="850.85" y="520.1" class="xx" text-anchor="middle" style="letter-spacing:0.5px">9:00 AM</text>
  <text x="936.6" y="494.7" style="font-family:'Liberation Sans',sans-serif;font-weight:bold;font-size:15px;fill:#7c879b;letter-spacing:.35px">USD</text>
  <!-- last price label -->
  <rect x="921" y="366.2" width="64" height="31.2" rx="3.5" fill="#ea3943"/>
  <text x="928.8" y="387.8" style="font-family:'Liberation Sans',sans-serif;font-weight:bold;font-size:14.8px;fill:#fff;letter-spacing:.1px">83.60K</text>
</svg>
</body></html>
